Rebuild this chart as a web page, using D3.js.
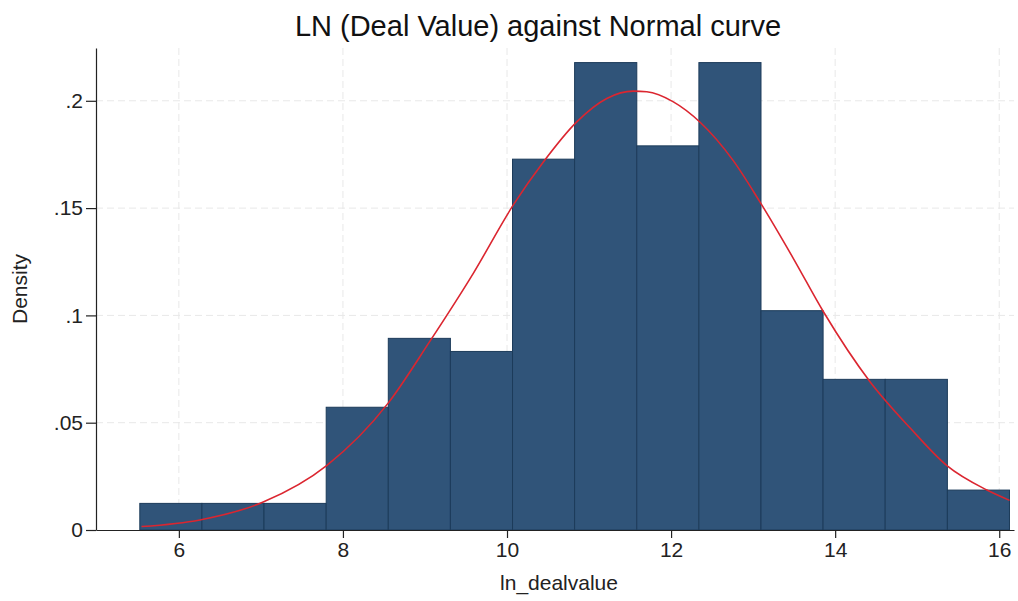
<!DOCTYPE html>
<html>
<head>
<meta charset="utf-8">
<script src="https://cdn.jsdelivr.net/npm/d3@7"></script>
<style>
  html, body { margin: 0; padding: 0; background: #fff; }
  svg { display: block; font-family: "Liberation Sans", Arial, Helvetica, sans-serif; }
</style>
</head>
<body>
<svg id="chart" width="1018" height="601"></svg>
<script>
// ---- data ----
const binEdges = [5.524, 6.281, 7.038, 7.796, 8.553, 9.310, 10.067, 10.824, 11.582, 12.339, 13.096, 13.853, 14.610, 15.368, 16.125];
const densities = [0.0124, 0.0124, 0.0124, 0.0572, 0.0893, 0.0832, 0.1728, 0.2178, 0.1790, 0.2178, 0.1022, 0.0702, 0.0702, 0.0186];
const curveX = [5.545, 6.256, 7.028, 7.801, 8.549, 9.061, 9.589, 10.077, 10.443, 10.85, 11.216, 11.54, 11.704, 12.028, 12.354, 12.76, 13.073, 13.491, 13.857, 14.427, 14.915, 15.362, 15.85, 16.126];
const curveY = [0.0016, 0.0047, 0.0130, 0.0300, 0.0590, 0.0880, 0.1196, 0.1515, 0.1715, 0.1902, 0.2011, 0.2045, 0.2042, 0.1995, 0.1900, 0.1720, 0.1535, 0.1265, 0.1017, 0.0690, 0.0475, 0.0300, 0.0186, 0.0138];
const xTicks = [6, 8, 10, 12, 14, 16];
const yTicks = [0, 0.05, 0.1, 0.15, 0.2];
const yTickLabels = ["0", ".05", ".1", ".15", ".2"];
const titleText = "LN (Deal Value) against Normal curve";
const xTitle = "ln_dealvalue";
const yTitle = "Density";

// ---- layout ----
const svg = d3.select("#chart");
const pLeft = 96, pRight = 1014, pTop = 48, pBottom = 530;
const x = d3.scaleLinear().domain([4.99, 16.18]).range([pLeft, pRight]);
const y = d3.scaleLinear().domain([0, 0.2246]).range([pBottom, pTop]);

// gridlines
const grid = svg.append("g").attr("stroke", "#e8e8e8").attr("stroke-width", 1).attr("stroke-dasharray", "7,4");
grid.selectAll("line.v").data(xTicks).join("line").attr("class", "v")
  .attr("x1", d => x(d)).attr("x2", d => x(d)).attr("y1", pTop).attr("y2", pBottom);
grid.selectAll("line.h").data(yTicks.filter(d => d > 0)).join("line").attr("class", "h")
  .attr("x1", pLeft).attr("x2", pRight).attr("y1", d => y(d)).attr("y2", d => y(d));

// bars
const bins = densities.map((d, i) => ({ x0: binEdges[i], x1: binEdges[i + 1], v: d }));
svg.append("g").selectAll("rect").data(bins).join("rect")
  .attr("x", d => x(d.x0))
  .attr("y", d => y(d.v))
  .attr("width", d => x(d.x1) - x(d.x0))
  .attr("height", d => y(0) - y(d.v))
  .attr("fill", "#305479")
  .attr("stroke", "#1c3b5a")
  .attr("stroke-width", 1);

// normal curve
const pts = curveX.map((d, i) => [d, curveY[i]]);
svg.append("path").datum(pts)
  .attr("fill", "none")
  .attr("stroke", "#db2630")
  .attr("stroke-width", 1.6)
  .attr("d", d3.line().x(d => x(d[0])).y(d => y(d[1])).curve(d3.curveMonotoneX));

// axes
const xAxis = svg.append("g").attr("transform", `translate(0,${pBottom})`)
  .call(d3.axisBottom(x).tickValues(xTicks).tickSize(8).tickSizeOuter(0).tickPadding(4));
const yAxis = svg.append("g").attr("transform", `translate(${pLeft},0)`)
  .call(d3.axisLeft(y).tickValues(yTicks).tickFormat((d, i) => yTickLabels[i]).tickSize(10).tickSizeOuter(0).tickPadding(3));
[xAxis, yAxis].forEach(a => {
  a.select(".domain").attr("stroke", "#222").attr("stroke-width", 1.2);
  a.selectAll(".tick line").attr("stroke", "#222").attr("stroke-width", 1.2);
  a.selectAll(".tick text").attr("fill", "#222").attr("font-size", 21).attr("font-family", "Liberation Sans, Arial, sans-serif");
});

// titles
svg.append("text").attr("x", 538).attr("y", 36).attr("text-anchor", "middle")
  .attr("font-size", 29).attr("fill", "#111").text(titleText);
svg.append("text").attr("x", 559).attr("y", 590).attr("text-anchor", "middle")
  .attr("font-size", 21).attr("fill", "#222").text(xTitle);
svg.append("text").attr("transform", "translate(27,289) rotate(-90)").attr("text-anchor", "middle")
  .attr("font-size", 21).attr("fill", "#222").text(yTitle);
</script>
</body>
</html>
